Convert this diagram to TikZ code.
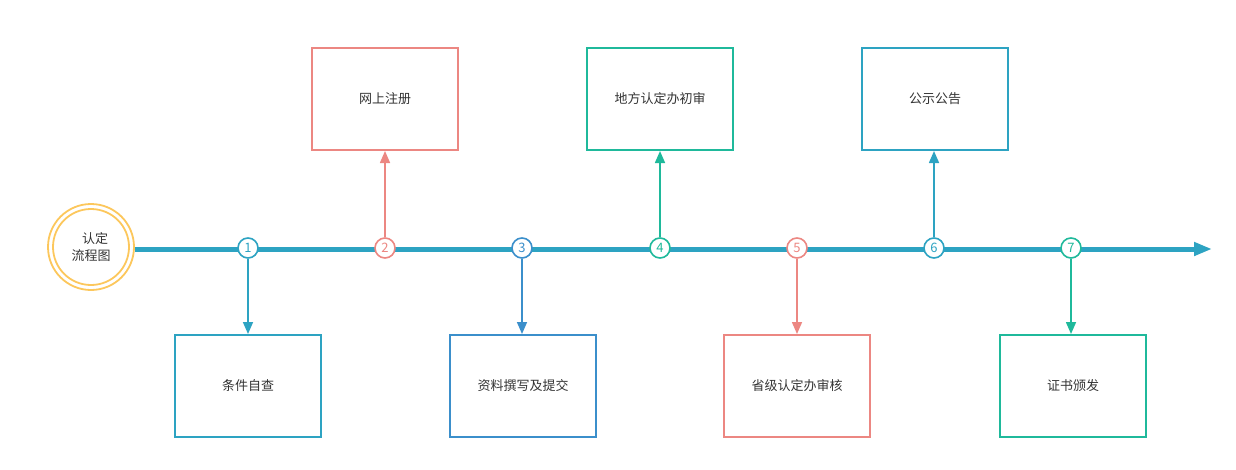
\documentclass[tikz,border=0pt]{standalone}
\usepackage{fontspec}
\newfontfamily\cjk{Noto Sans CJK SC}
\usetikzlibrary{arrows.meta}
\definecolor{cteal}{HTML}{2DA3C2}
\definecolor{cblue}{HTML}{3B8FCB}
\definecolor{csalmon}{HTML}{EC8782}
\definecolor{cgreen}{HTML}{1FB99B}
\definecolor{cyellow}{HTML}{FCC75C}
\definecolor{ctext}{HTML}{333333}
\tikzset{
  numc/.style={circle, draw=#1, line width=1.6pt, fill=white, minimum size=20pt, inner sep=0pt, text=#1, font=\cjk\fontsize{13}{13}\selectfont},
  stepbox/.style={draw=#1, line width=2pt, minimum width=146pt, minimum height=102pt, inner sep=0pt, text=ctext, font=\cjk\fontsize{13}{14}\selectfont},
  conn/.style={draw=#1, line width=1.6pt, -{Triangle[length=12pt,width=10pt]}}
}
\begin{document}
\begin{tikzpicture}[x=1pt,y=-1pt]
\useasboundingbox (0,0) rectangle (1236,469);
% start circle
\node[circle, draw=cyellow, line width=1.8pt, minimum size=86pt, inner sep=0pt] (start) at (91,247) {};
\node[circle, draw=cyellow, line width=1.8pt, minimum size=76pt, inner sep=0pt, align=center, text=ctext, font=\cjk\fontsize{13}{17}\selectfont] (starti) at (91,247) {\hspace*{8pt}认定\\流程图};
\coordinate (lend) at (1212,249);
\draw[draw=cteal, line width=5pt, -{Triangle[length=18pt,width=13pt]}] (start.east |- 0,249) -- (lend);
% number circles
\node[numc=cteal] (n1) at (248,248) {1};
\node[numc=csalmon] (n2) at (385,248) {2};
\node[numc=cblue] (n3) at (522,248) {3};
\node[numc=cgreen] (n4) at (660,248) {4};
\node[numc=csalmon] (n5) at (797,248) {5};
\node[numc=cteal] (n6) at (934,248) {6};
\node[numc=cgreen] (n7) at (1071,248) {7};
% boxes
\node[stepbox=csalmon] (b2) at (385,99) {网上注册};
\node[stepbox=cgreen] (b4) at (660,99) {地方认定办初审};
\node[stepbox=cteal] (b6) at (935,99) {公示公告};
\node[stepbox=cteal] (b1) at (248,386) {条件自查};
\node[stepbox=cblue] (b3) at (523,386) {资料撰写及提交};
\node[stepbox=csalmon] (b5) at (797,386) {省级认定办审核};
\node[stepbox=cgreen] (b7) at (1073,386) {证书颁发};
% connectors
\draw[conn=cteal] (n1) -- (n1 |- b1.north);
\draw[conn=csalmon] (n2) -- (n2 |- b2.south);
\draw[conn=cblue] (n3) -- (n3 |- b3.north);
\draw[conn=cgreen] (n4) -- (n4 |- b4.south);
\draw[conn=csalmon] (n5) -- (n5 |- b5.north);
\draw[conn=cteal] (n6) -- (n6 |- b6.south);
\draw[conn=cgreen] (n7) -- (n7 |- b7.north);
\end{tikzpicture}
\end{document}
